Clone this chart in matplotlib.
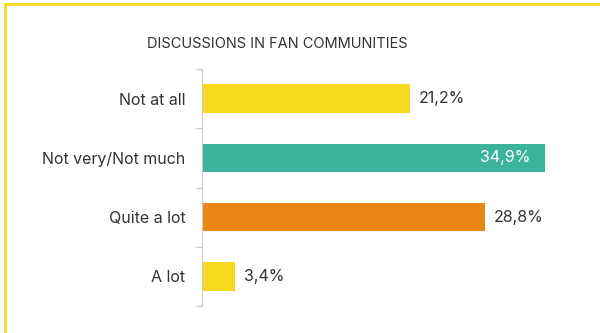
import matplotlib.pyplot as plt
from matplotlib.lines import Line2D

categories = ['Not at all', 'Not very/Not much', 'Quite a lot', 'A lot']
values = [21.2, 34.9, 28.8, 3.4]
labels = ['21,2%', '34,9%', '28,8%', '3,4%']
colors = ['#F7D91F', '#3CB49B', '#EE8614', '#F7D91F']

plt.rcParams['font.family'] = ['Inter', 'DejaVu Sans']
text_color = '#333333'

fig = plt.figure(figsize=(6, 3.33), dpi=100)
ax = fig.add_axes([202 / 600, 1 - 306 / 333, 393 / 600, 237 / 333])

y = range(len(categories))
ax.barh(y, values, height=0.48, color=colors)

for i, (v, lab) in enumerate(zip(values, labels)):
    if v == max(values):
        ax.text(v - 1.5, i, lab, ha='right', va='center', color='white', fontsize=11.5)
    else:
        ax.text(v + 0.9, i, lab, ha='left', va='center', color=text_color, fontsize=11.5)

ax.set_xlim(0, 40)
ax.set_ylim(len(categories) - 0.5, -0.5)
ax.set_yticks(list(y))
ax.set_yticklabels(categories, fontsize=11.5, color=text_color)
ax.set_yticks([i - 0.5 for i in range(len(categories) + 1)], minor=True)
ax.tick_params(axis='y', which='major', length=0, pad=12)
ax.tick_params(axis='y', which='minor', length=4, color='#cccccc', width=1)
ax.set_xticks([])
for side in ['top', 'right', 'bottom']:
    ax.spines[side].set_visible(False)
ax.spines['left'].set_color('#cccccc')

fig.text(277 / 600, 1 - 44 / 333, 'DISCUSSIONS IN FAN COMMUNITIES',
         ha='center', va='center', fontsize=10.5, color=text_color)

# yellow frame (left and top edges visible)
fig.add_artist(Line2D([5 / 600, 5 / 600], [0, 1 - 4 / 333], color='#F7D91F', lw=2))
fig.add_artist(Line2D([5 / 600, 1], [1 - 4 / 333, 1 - 4 / 333], color='#F7D91F', lw=2))

fig.savefig('out.png', dpi=100)
